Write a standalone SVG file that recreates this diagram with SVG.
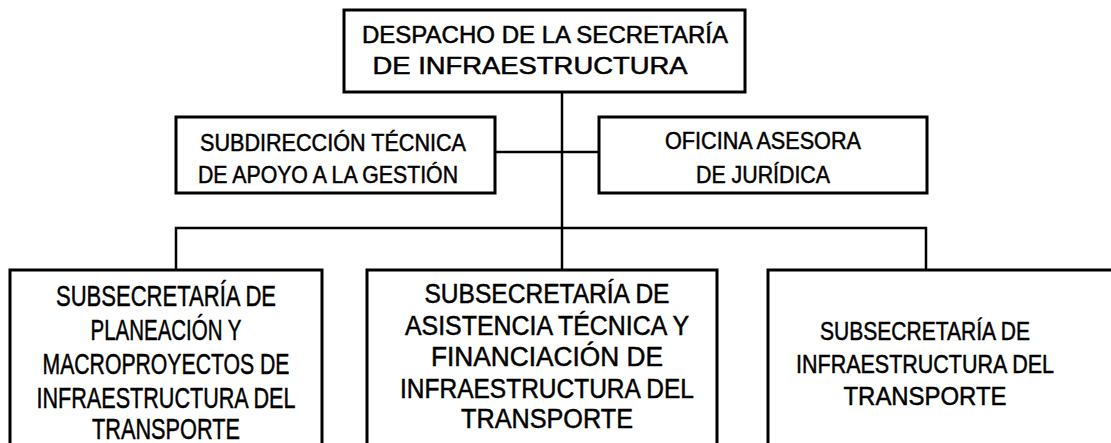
<svg xmlns="http://www.w3.org/2000/svg" width="1111" height="443" viewBox="0 0 1111 443">
<style>
.box{fill:#fff;stroke:#000;stroke-width:3}
.ln{fill:none;stroke:#000;stroke-width:2.5}
text{font-family:"Liberation Sans",Arial,sans-serif;fill:#000;stroke:#000;stroke-width:0.5;text-anchor:middle}
.t1{font-size:23px}
.t2{font-size:24px}
.tl{font-size:30px}
.tm{font-size:27px}
.tr{font-size:26px}
</style>
<rect width="1111" height="443" fill="#fff"/>
<g id="connectors">
<path class="ln" d="M562 92V270"/>
<path class="ln" d="M495 152H599"/>
<path class="ln" d="M176 270V228H926V270"/>
</g>
<g id="despacho">
<rect class="box" x="344" y="10" width="401" height="82"/>
<text class="t1" x="545" y="43" textLength="366" lengthAdjust="spacingAndGlyphs">DESPACHO DE LA SECRETARÍA</text>
<text class="t1" x="530" y="74" textLength="315" lengthAdjust="spacingAndGlyphs">DE INFRAESTRUCTURA</text>
</g>
<g id="subdireccion">
<rect class="box" x="176" y="117" width="319" height="76"/>
<text class="t2" x="333" y="151" textLength="266" lengthAdjust="spacingAndGlyphs">SUBDIRECCIÓN TÉCNICA</text>
<text class="t2" x="328" y="183" textLength="260" lengthAdjust="spacingAndGlyphs">DE APOYO A LA GESTIÓN</text>
</g>
<g id="oficina">
<rect class="box" x="599" y="117" width="328" height="76"/>
<text class="t2" x="763" y="149" textLength="196" lengthAdjust="spacingAndGlyphs">OFICINA ASESORA</text>
<text class="t2" x="763" y="183" textLength="134" lengthAdjust="spacingAndGlyphs">DE JURÍDICA</text>
</g>
<g id="sub-planeacion">
<rect class="box" x="10" y="270" width="312" height="200"/>
<text class="tl" x="166" y="306" textLength="220" lengthAdjust="spacingAndGlyphs">SUBSECRETARÍA DE</text>
<text class="tl" x="166" y="340" textLength="151" lengthAdjust="spacingAndGlyphs">PLANEACIÓN Y</text>
<text class="tl" x="166" y="374" textLength="247" lengthAdjust="spacingAndGlyphs">MACROPROYECTOS DE</text>
<text class="tl" x="166" y="408" textLength="259" lengthAdjust="spacingAndGlyphs">INFRAESTRUCTURA DEL</text>
<text class="tl" x="166" y="439" textLength="148" lengthAdjust="spacingAndGlyphs">TRANSPORTE</text>
</g>
<g id="sub-asistencia">
<rect class="box" x="367" y="270" width="350" height="200"/>
<text class="tm" x="547" y="303" textLength="245" lengthAdjust="spacingAndGlyphs">SUBSECRETARÍA DE</text>
<text class="tm" x="547" y="335" textLength="284" lengthAdjust="spacingAndGlyphs">ASISTENCIA TÉCNICA Y</text>
<text class="tm" x="547" y="366" textLength="232" lengthAdjust="spacingAndGlyphs">FINANCIACIÓN  DE</text>
<text class="tm" x="547" y="398" textLength="294" lengthAdjust="spacingAndGlyphs">INFRAESTRUCTURA DEL</text>
<text class="tm" x="547" y="428" textLength="172" lengthAdjust="spacingAndGlyphs">TRANSPORTE</text>
</g>
<g id="sub-infraestructura">
<rect class="box" x="768" y="270" width="360" height="200"/>
<text class="tr" x="925" y="340" textLength="210" lengthAdjust="spacingAndGlyphs">SUBSECRETARÍA DE</text>
<text class="tr" x="925" y="373" textLength="258" lengthAdjust="spacingAndGlyphs">INFRAESTRUCTURA DEL</text>
<text class="tr" x="925" y="405" textLength="163" lengthAdjust="spacingAndGlyphs">TRANSPORTE</text>
</g>
</svg>
